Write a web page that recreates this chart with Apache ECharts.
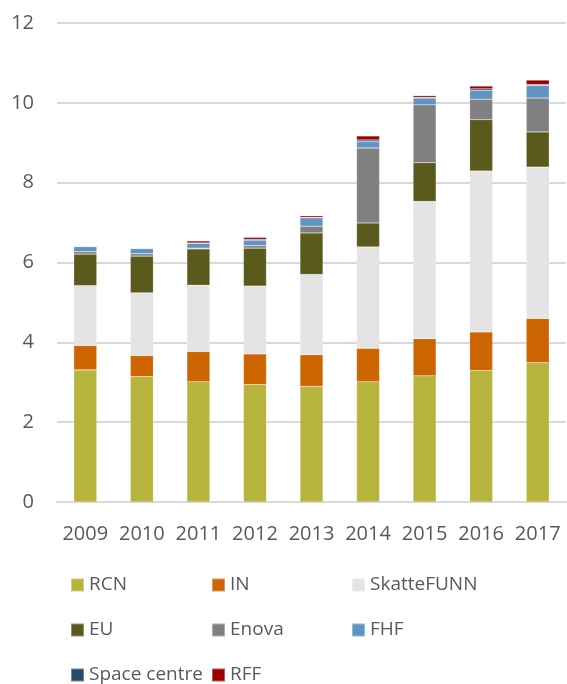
<!DOCTYPE html>
<html>
<head>
<meta charset="utf-8">
<script src="https://cdn.jsdelivr.net/npm/echarts@6/dist/echarts.min.js"></script>
<style>
  html, body { margin: 0; padding: 0; background: #fff; }
  #chart { width: 567px; height: 684px; }
</style>
</head>
<body>
<div id="chart"></div>
<script>
// years
var years = ['2009', '2010', '2011', '2012', '2013', '2014', '2015', '2016', '2017'];

// funding by source
var rcn         = [3.31, 3.14, 3.01, 2.94, 2.89, 3.01, 3.16, 3.29, 3.49];
var inn         = [0.61, 0.53, 0.76, 0.77, 0.80, 0.84, 0.93, 0.97, 1.11];
var skattefunn  = [1.50, 1.57, 1.66, 1.70, 2.01, 2.54, 3.44, 4.03, 3.79];
var eu          = [0.79, 0.92, 0.91, 0.95, 1.04, 0.60, 0.97, 1.29, 0.88];
var enova       = [0.06, 0.06, 0.02, 0.06, 0.17, 1.88, 1.45, 0.51, 0.85];
var fhf         = [0.13, 0.13, 0.12, 0.13, 0.21, 0.16, 0.17, 0.22, 0.32];
var spaceCentre = [0.00, 0.00, 0.01, 0.03, 0.01, 0.04, 0.02, 0.04, 0.02];
var rff         = [0.00, 0.01, 0.05, 0.05, 0.04, 0.10, 0.04, 0.07, 0.11];

var yTicks = [0, 2, 4, 6, 8, 10, 12];

var textGrey = '#595959';
var fontName = 'Open Sans';

function bar(name, data, color) {
    return {
        name: name,
        type: 'bar',
        stack: 'total',
        barWidth: 23,
        itemStyle: { color: color, borderColor: 'rgba(255,255,255,0.35)', borderWidth: 0.5 },
        data: data
    };
}

// one vertical legend per column, tall enough that the third row runs off the page like the original
var legendStyle = {
    orient: 'vertical',
    top: 573,
    height: 200,
    padding: 0,
    itemWidth: 13,
    itemHeight: 13,
    itemGap: 21,
    icon: 'rect',
    textStyle: { color: textGrey, fontSize: 19, fontFamily: fontName, lineHeight: 24 }
};

var myChart = echarts.init(document.getElementById('chart'));
var options = {
    animation: false,
    backgroundColor: '#fff',
    grid: { left: 57, right: 1, top: 23, bottom: 182 },
    legend: [
        Object.assign({}, legendStyle, { left: 70, data: ['RCN', 'EU', 'Space centre'] }),
        Object.assign({}, legendStyle, { left: 211, data: ['IN', 'Enova', 'RFF'] }),
        Object.assign({}, legendStyle, { left: 351, data: ['SkatteFUNN', 'FHF'] })
    ],
    xAxis: {
        type: 'category',
        data: years,
        axisLine: { lineStyle: { color: '#d9d9d9', width: 2 } },
        axisTick: { show: false },
        axisLabel: { color: textGrey, fontSize: 20, fontFamily: fontName, margin: 22, interval: 0 }
    },
    yAxis: {
        type: 'value',
        min: yTicks[0],
        max: yTicks[yTicks.length - 1],
        interval: 2,
        axisLine: { show: false },
        axisTick: { show: false },
        splitLine: { lineStyle: { color: '#d9d9d9', width: 2 } },
        axisLabel: { color: textGrey, fontSize: 20, fontFamily: fontName, margin: 23 }
    },
    series: [
        bar('RCN', rcn, '#b6b43d'),
        bar('IN', inn, '#cd6602'),
        bar('SkatteFUNN', skattefunn, '#e4e4e4'),
        bar('EU', eu, '#5b5a1d'),
        bar('Enova', enova, '#808080'),
        bar('FHF', fhf, '#6094c3'),
        bar('Space centre', spaceCentre, '#264b6a'),
        bar('RFF', rff, '#9b0000')
    ]
};

myChart.setOption(options);
</script>
</body>
</html>
